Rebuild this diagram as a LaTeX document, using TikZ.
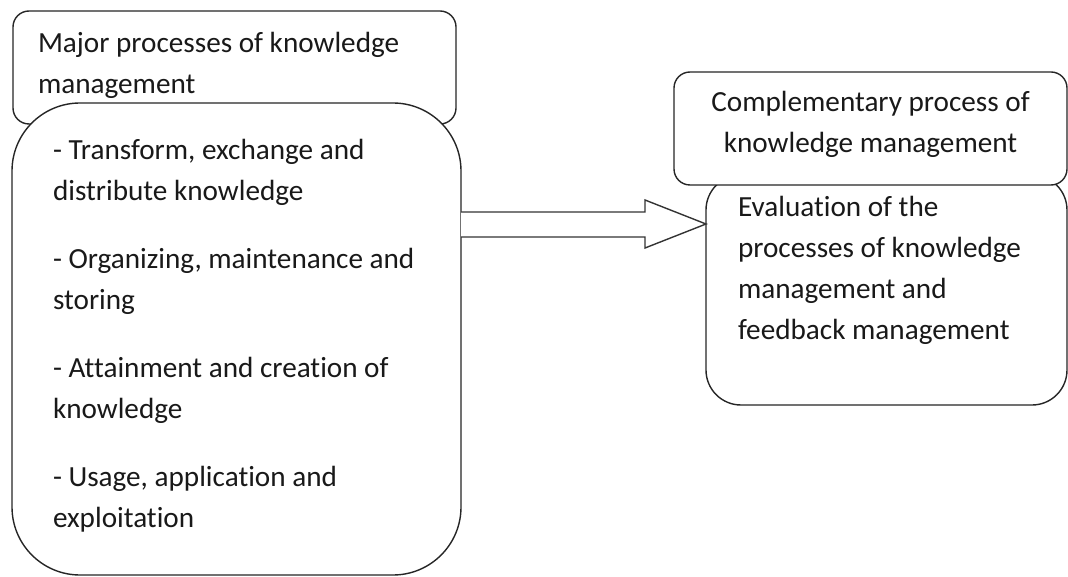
\documentclass[tikz,border=0pt]{standalone}
\usepackage{fontspec}
\setmainfont{Carlito}[Ligatures={NoCommon}]
\usetikzlibrary{calc}
\tikzset{
  box/.style={draw=black!85, line width=1.4pt, fill=white, inner sep=0pt, outer sep=0pt, anchor=north west},
  txt/.style={inner sep=0pt, outer sep=0pt, anchor=base west, text=black!90},
  blockarrow/.style={draw=black!80, line width=1.4pt, fill=white, line join=miter}
}
\newcommand{\bodyfont}{\fontsize{29.2}{41}\selectfont}
\begin{document}
\begin{tikzpicture}[x=1pt,y=-1pt]
\useasboundingbox (0,0) rectangle (1068,577);
% left boxes
\node[box, rounded corners=16pt, minimum width=443pt, minimum height=113pt] (A) at (13,11) {};
\node[box, rounded corners=68pt, minimum width=449pt, minimum height=472pt] (B) at (12,103) {};
% right boxes
\node[box, rounded corners=35pt, minimum width=361pt, minimum height=230pt] (D) at (706,175) {};
\node[box, rounded corners=16pt, minimum width=393pt, minimum height=113pt] (C) at (674,72) {};
% arrow
\coordinate (as) at (B.east |- 0,224);
\coordinate (at) at (D.west |- 0,224);
\draw[blockarrow] ($(as)+(0,-12)$) -- ($(at)+(-61,-12)$) -- ($(at)+(-61,-24)$) -- (at)
  -- ($(at)+(-61,24)$) -- ($(at)+(-61,13)$) -- ($(as)+(0,13)$);
% texts
\node[txt] (tA) at (38,53) {\parbox[t]{420pt}{\bodyfont Major processes of knowledge\\management}};
\node[txt] (tB) at (53,160) {\parbox[t]{400pt}{\bodyfont - Transform, exchange and\\distribute knowledge\\[27pt]- Organizing, maintenance and\\storing\\[27pt]- Attainment and creation of\\knowledge\\[27pt]- Usage, application and\\exploitation}};
\node[txt] (tC) at (674,112) {\parbox[t]{393pt}{\centering\bodyfont Complementary process of\\knowledge management}};
\node[txt] (tD) at (738,217) {\parbox[t]{320pt}{\bodyfont Evaluation of the\\processes of knowledge\\management and\\feedback management}};
\end{tikzpicture}
\end{document}
